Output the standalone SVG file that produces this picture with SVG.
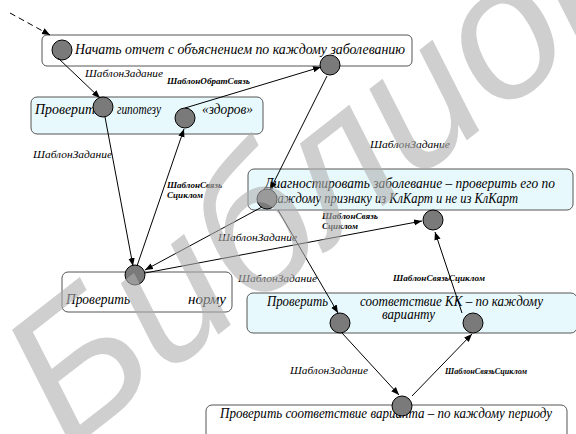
<svg xmlns="http://www.w3.org/2000/svg" width="576" height="434" viewBox="0 0 576 434">
<defs>
<marker id="ah" viewBox="0 0 10 10" refX="10" refY="5" markerWidth="8" markerHeight="8" orient="auto" markerUnits="userSpaceOnUse">
<path d="M0,1 L10,5 L0,9 z" fill="#000"/>
</marker>
<style>
.box{stroke:#555;stroke-width:1}
.w{fill:#fff}
.c{fill:#e8f9fd}
.dot{fill:#7a7a7a;stroke:#000;stroke-width:1}
.t{font-family:"Liberation Serif","Times New Roman",serif;font-style:italic;font-size:14px;fill:#000}
.l{font-family:"Liberation Serif","Times New Roman",serif;font-style:italic;font-size:11px;fill:#000}
.b{font-family:"Liberation Serif","Times New Roman",serif;font-style:italic;font-weight:bold;font-size:8px;fill:#000}
.e{stroke:#000;stroke-width:1;fill:none;marker-end:url(#ah)}
</style>
</defs>
<rect width="576" height="434" fill="#fff"/>

<g id="n1">
<rect class="box w" x="42" y="35" width="370" height="31" rx="5"/>
<text class="t" x="75" y="54" textLength="330" lengthAdjust="spacingAndGlyphs">Начать отчет с объяснением по каждому заболеванию</text>
<circle class="dot" cx="62" cy="50" r="10"/>
<circle class="dot" cx="330" cy="65" r="10"/>
</g>

<g id="n2">
<rect class="box c" x="31" y="97" width="232" height="37" rx="6"/>
<text class="t" x="35" y="114" textLength="60" lengthAdjust="spacingAndGlyphs">Проверит</text>
<text class="t" x="117" y="114" textLength="44" lengthAdjust="spacingAndGlyphs">гипотезу</text>
<text class="t" x="202" y="114" textLength="51" lengthAdjust="spacingAndGlyphs">«здоров»</text>
<circle class="dot" cx="103" cy="107" r="10"/>
<circle class="dot" cx="185" cy="118" r="10"/>
</g>

<g id="n3">
<rect class="box c" x="248" y="169" width="325" height="41" rx="6"/>
<text class="t" x="265" y="188" textLength="290" lengthAdjust="spacingAndGlyphs">Диагностировать заболевание  – проверить его по</text>
<text class="t" x="272" y="203" textLength="246" lengthAdjust="spacingAndGlyphs">каждому признаку из КлКарт  и не из КлКарт</text>
<circle class="dot" cx="267" cy="199" r="10"/>
<circle class="dot" cx="433" cy="220" r="10"/>
</g>

<g id="n4">
<rect class="box w" x="62" y="272" width="170" height="40" rx="6"/>
<text class="t" x="66" y="304" textLength="64" lengthAdjust="spacingAndGlyphs">Проверить</text>
<text class="t" x="188" y="304" textLength="38" lengthAdjust="spacingAndGlyphs">норму</text>
<circle class="dot" cx="135" cy="275" r="10"/>
</g>

<g id="n5">
<rect class="box c" x="247" y="293" width="330" height="40" rx="6"/>
<text class="t" x="267" y="306" textLength="61" lengthAdjust="spacingAndGlyphs">Проверить</text>
<text class="t" x="360" y="306" textLength="183" lengthAdjust="spacingAndGlyphs">соответствие КК – по каждому</text>
<text class="t" x="382" y="319" textLength="53" lengthAdjust="spacingAndGlyphs">варианту</text>
<circle class="dot" cx="340" cy="323" r="10"/>
<circle class="dot" cx="473" cy="323" r="10"/>
</g>

<g id="n6">
<rect class="box w" x="206" y="405" width="361" height="40" rx="6"/>
<text class="t" x="220" y="418" textLength="332" lengthAdjust="spacingAndGlyphs">Проверить соответствие варианта – по каждому периоду</text>
<circle class="dot" cx="402" cy="406" r="10"/>
</g>

<g id="edges">
<line x1="10" y1="13" x2="50" y2="35" stroke="#000" stroke-width="1" stroke-dasharray="6,4" marker-end="url(#ah)"/>
<line class="e" x1="58" y1="58" x2="100" y2="98"/>
<line class="e" x1="185" y1="108" x2="321" y2="67"/>
<line class="e" x1="105" y1="117" x2="133" y2="266"/>
<line class="e" x1="137" y1="266" x2="184" y2="129"/>
<line class="e" x1="327" y1="76" x2="270" y2="190"/>
<line class="e" x1="262" y1="207" x2="145" y2="270"/>
<line class="e" x1="145" y1="273" x2="422" y2="221"/>
<line class="e" x1="278" y1="210" x2="338" y2="313"/>
<line class="e" x1="462" y1="313" x2="435" y2="232"/>
<line class="e" x1="342" y1="333" x2="399" y2="395"/>
<line class="e" x1="412" y1="396" x2="472" y2="334"/>
<text class="l" x="85" y="77" textLength="78" lengthAdjust="spacingAndGlyphs">ШаблонЗадание</text>
<text class="b" x="167" y="84" textLength="83" lengthAdjust="spacingAndGlyphs">ШаблонОбратСвязь</text>
<text class="l" x="33" y="158" textLength="79" lengthAdjust="spacingAndGlyphs">ШаблонЗадание</text>
<text class="b" x="167" y="188" textLength="55" lengthAdjust="spacingAndGlyphs">ШаблонСвязь</text>
<text class="b" x="167" y="198" textLength="36" lengthAdjust="spacingAndGlyphs">Сциклом</text>
<text class="l" x="370" y="148" textLength="80" lengthAdjust="spacingAndGlyphs">ШаблонЗадание</text>
<text class="l" x="218" y="241" textLength="79" lengthAdjust="spacingAndGlyphs">ШаблонЗадание</text>
<text class="b" x="322" y="219" textLength="56" lengthAdjust="spacingAndGlyphs">ШаблонСвязь</text>
<text class="b" x="322" y="229" textLength="36" lengthAdjust="spacingAndGlyphs">Сциклом</text>
<text class="l" x="238" y="282" textLength="79" lengthAdjust="spacingAndGlyphs">ШаблонЗадание</text>
<text class="b" x="393" y="281" textLength="92" lengthAdjust="spacingAndGlyphs">ШаблонСвязьСциклом</text>
<text class="l" x="290" y="374" textLength="78" lengthAdjust="spacingAndGlyphs">ШаблонЗадание</text>
<text class="b" x="445" y="374" textLength="82" lengthAdjust="spacingAndGlyphs">ШаблонСвязьСциклом</text>
</g>

<g id="watermark" opacity="0.6">
<text x="68" y="452" transform="rotate(-38 68 452)" font-family="Liberation Sans, sans-serif" font-style="italic" font-size="190" fill="#b0b0b0">Библиотека</text>
</g>
</svg>
